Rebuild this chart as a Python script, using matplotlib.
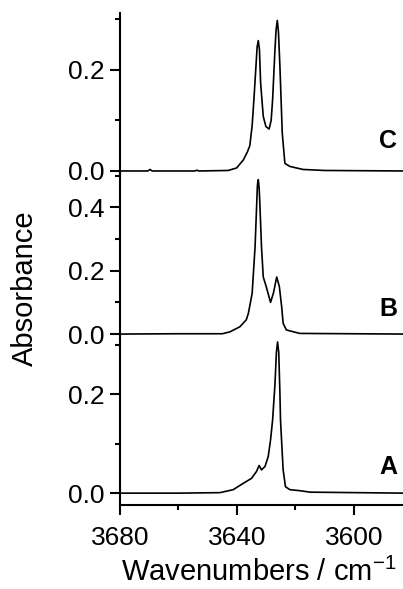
import numpy as np
import matplotlib
matplotlib.use('Agg')
import matplotlib.pyplot as plt
from matplotlib.ticker import MultipleLocator

plt.rcParams['font.family'] = ['Liberation Sans', 'DejaVu Sans']
plt.rcParams['mathtext.fontset'] = 'custom'
plt.rcParams['mathtext.rm'] = 'Liberation Sans'
plt.rcParams['mathtext.default'] = 'regular'

# spectrum C (top)
wn_c = [3680, 3670.5, 3669.7, 3669, 3654.5, 3653.7, 3653, 3643, 3640.1, 3637.8,
        3636.4, 3635.6, 3634.8, 3634.2, 3633.5, 3633.1, 3632.7, 3632.3, 3631.9,
        3631.0, 3630.1, 3629.0, 3628.3, 3627.8, 3627.0, 3626.6, 3626.2, 3625.8,
        3625.3, 3624.5, 3623.6, 3621.9, 3617.4, 3610, 3583]
abs_c = [0.0, 0.0, 0.003, 0.0, 0.0, 0.0015, 0.0, 0.001, 0.006, 0.022,
         0.038, 0.050, 0.090, 0.141, 0.207, 0.245, 0.258, 0.240, 0.174,
         0.108, 0.088, 0.083, 0.100, 0.141, 0.240, 0.280, 0.298, 0.275,
         0.207, 0.075, 0.015, 0.009, 0.003, 0.001, 0.0]

# spectrum B (middle)
wn_b = [3680, 3660, 3645, 3642.4, 3639.0, 3636.8, 3636.1, 3634.8, 3633.8, 3633.2,
        3633.0, 3632.7, 3632.4, 3632.2, 3631.6, 3631.0, 3630.0, 3628.5, 3627.5,
        3626.4, 3625.5, 3624.7, 3624.2, 3623.1, 3621.9, 3618.5, 3583]
abs_b = [0.0, 0.001, 0.001, 0.007, 0.023, 0.045, 0.065, 0.128, 0.275, 0.420,
         0.470, 0.487, 0.460, 0.420, 0.275, 0.180, 0.150, 0.100, 0.130,
         0.180, 0.150, 0.086, 0.034, 0.013, 0.010, 0.002, 0.0]

# spectrum A (bottom)
wn_a = [3680, 3660, 3645.8, 3641.3, 3637.8, 3635.0, 3633.3, 3632.4, 3631.6, 3630.4,
        3629.3, 3628.5, 3627.8, 3627.0, 3626.5, 3626.1, 3625.7, 3625.3, 3625.1,
        3624.2, 3623.4, 3621.9, 3618.5, 3615, 3583]
abs_a = [0.0, 0.0, 0.001, 0.007, 0.020, 0.030, 0.044, 0.056, 0.047, 0.054,
         0.074, 0.108, 0.148, 0.220, 0.285, 0.306, 0.285, 0.202, 0.148,
         0.047, 0.013, 0.007, 0.005, 0.002, 0.0]

W, H = 403, 589
fig = plt.figure(figsize=(W / 100, H / 100), dpi=100)

left = 120
panels = [
    # (wn, absorb, label, top px, bottom px, ylim, label y frac, major ticks)
    (wn_c, abs_c, 'C', 13.3, 173, (-0.004, 0.312), 0.20, [0.0, 0.2]),
    (wn_b, abs_b, 'B', 173, 338.5, (-0.014, 0.508), 0.18, [0.0, 0.2, 0.4]),
    (wn_a, abs_a, 'A', 338.5, 505, (-0.024, 0.313), 0.23, [0.0, 0.2]),
]

axes = []
for wn, ab, lab, top, bot, ylim, ly, majors in panels:
    ax = fig.add_axes([left / W, 1 - bot / H, (W - left) / W, (bot - top) / H])
    ax.plot(wn, ab, color='black', lw=1.2)
    ax.set_xlim(3680, 3583.2)
    ax.set_ylim(*ylim)
    ax.set_yticks(majors)
    ax.set_yticklabels(['%.1f' % v for v in majors])
    ax.yaxis.set_minor_locator(MultipleLocator(0.1))
    for s in ['top', 'right', 'bottom']:
        ax.spines[s].set_visible(False)
    ax.spines['left'].set_linewidth(1.5)
    ax.tick_params(axis='y', which='major', length=7.2, width=1.5, labelsize=19, pad=4)
    ax.tick_params(axis='y', which='minor', length=3.6, width=1.5)
    ax.tick_params(axis='x', which='both', bottom=False, labelbottom=False)
    ax.patch.set_alpha(0)
    ax.text(0.979, ly, lab, transform=ax.transAxes, ha='right', va='center',
            fontsize=18, fontweight='bold')
    axes.append(ax)

ax_a = axes[-1]
ax_a.spines['bottom'].set_visible(True)
ax_a.spines['bottom'].set_linewidth(1.5)
ax_a.set_xticks([3680, 3640, 3600])
ax_a.xaxis.set_minor_locator(MultipleLocator(20))
ax_a.tick_params(axis='x', which='major', bottom=True, labelbottom=True,
                 length=7.2, width=1.5, labelsize=19, pad=8)
ax_a.tick_params(axis='x', which='minor', bottom=True, length=3.6, width=1.5)

fig.text(25 / W, 1 - 288 / H, 'Absorbance', rotation=90, ha='center', va='center', fontsize=21)
fig.text(259 / W, 1 - 572 / H, 'Wavenumbers / cm$^{-1}$', ha='center', va='center', fontsize=21)

fig.savefig('out.png', dpi=100)
